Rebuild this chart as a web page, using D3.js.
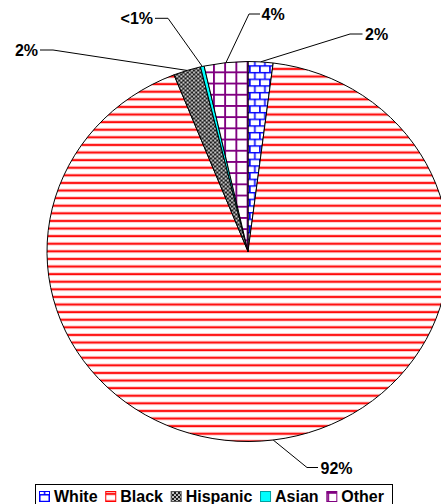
<!DOCTYPE html>
<html>
<head>
<meta charset="utf-8">
<script src="https://cdn.jsdelivr.net/npm/d3@7/dist/d3.min.js"></script>
<style>
  html, body { margin: 0; padding: 0; background: #fff; }
  svg { display: block; }
  text { font-family: "Liberation Sans", Arial, sans-serif; font-weight: bold; font-size: 16px; fill: #000; }
</style>
</head>
<body>
<svg id="chart" width="441" height="504"></svg>
<script>
// Population shares by group (percent), clockwise from 12 o'clock
const categories = ["White", "Black", "Hispanic", "Asian", "Other"];
const shares = [2.0, 92.0, 2.2, 0.3, 3.5];
const valueLabels = ["2%", "92%", "2%", "<1%", "4%"];

const svg = d3.select("#chart");

// Elliptical pie geometry
const cx = 248, cy = 251.5, rx = 201, ry = 190;
const sx = rx / ry;

// ---- fill patterns -------------------------------------------------------
const defs = svg.append("defs");

// Black: red horizontal stripes
const pBlack = defs.append("pattern").attr("id", "pat-black")
  .attr("patternUnits", "userSpaceOnUse").attr("width", 8).attr("height", 7.6)
  .attr("y", 3.6);
pBlack.append("rect").attr("width", 8).attr("height", 7.6).attr("fill", "#fff");
pBlack.append("rect").attr("y", 2.2).attr("width", 8).attr("height", 3.2).attr("fill", "#ffb3b3");
pBlack.append("rect").attr("y", 3.0).attr("width", 8).attr("height", 1.7).attr("fill", "#ff0000");

// White: blue brick
const bw = 9.5, bh = 6.67;
const pWhite = defs.append("pattern").attr("id", "pat-white")
  .attr("patternUnits", "userSpaceOnUse").attr("width", bw).attr("height", bh * 2)
  .attr("y", 0.5).attr("x", 1);
pWhite.append("rect").attr("width", bw).attr("height", bh * 2).attr("fill", "#fff");
pWhite.append("path")
  .attr("d", `M0,0.75H${bw}M0,${bh + 0.75}H${bw}M0.75,0V${bh}M${bw / 2 + 0.75},${bh}V${bh * 2}`)
  .attr("stroke", "#0000ff").attr("stroke-width", 1.5).attr("fill", "none");

// Other: purple grid
const gw = 10.6, gh = 11.2;
const pOther = defs.append("pattern").attr("id", "pat-other")
  .attr("patternUnits", "userSpaceOnUse").attr("width", gw).attr("height", gh)
  .attr("x", -1.3).attr("y", -0.9);
pOther.append("rect").attr("width", gw).attr("height", gh).attr("fill", "#fff");
pOther.append("path")
  .attr("d", `M0.9,0V${gh}M0,0.9H${gw}`)
  .attr("stroke", "#800080").attr("stroke-width", 1.8).attr("fill", "none");

// Hispanic: dark confetti
const pHisp = defs.append("pattern").attr("id", "pat-hisp")
  .attr("patternUnits", "userSpaceOnUse").attr("width", 4).attr("height", 4);
pHisp.append("rect").attr("width", 4).attr("height", 4).attr("fill", "#1a1a1a");
pHisp.append("circle").attr("cx", 1).attr("cy", 1).attr("r", 1.1).attr("fill", "#c8c8c8");
pHisp.append("circle").attr("cx", 3).attr("cy", 3).attr("r", 1.1).attr("fill", "#c8c8c8");
pHisp.append("circle").attr("cx", 1).attr("cy", 1).attr("r", 0.4).attr("fill", "#fff");
pHisp.append("circle").attr("cx", 3).attr("cy", 3).attr("r", 0.4).attr("fill", "#fff");

const fills = ["url(#pat-white)", "url(#pat-black)", "url(#pat-hisp)", "#00ffff", "url(#pat-other)"];
const keyStrokes = ["#0000ff", "#ff0000", "#555", "#00a0a0", "#800080"];

// ---- pie -----------------------------------------------------------------
const arcs = d3.pie().sort(null).value(d => d)(shares);
const arcGen = d3.arc().innerRadius(0).outerRadius(ry);

const pieG = svg.append("g").attr("transform", `translate(${cx},${cy}) scale(${sx},1)`);
pieG.selectAll("path.slice")
  .data(arcs)
  .join("path")
  .attr("class", "slice")
  .attr("d", arcGen)
  .attr("fill", (d, i) => fills[i])
  .attr("stroke", "#000")
  .attr("stroke-width", 1)
  .attr("stroke-linejoin", "round")
  .attr("vector-effect", "non-scaling-stroke");

// ---- data labels with leader lines --------------------------------------
// label placement: text anchor point and the elbow of each leader line
const labelLayout = [
  { x: 365,  y: 39.7, anchor: "start", elbow: [350, 34],   tail: [362.5, 34] },
  { x: 320.5, y: 473.5, anchor: "start", elbow: [307, 467.5], tail: [318, 467.5] },
  { x: 38,   y: 56,   anchor: "end",   elbow: [53, 50],    tail: [40, 50] },
  { x: 153,  y: 23.5, anchor: "end",   elbow: [168, 18.3], tail: [155, 18.3] },
  { x: 261.5, y: 19.5, anchor: "start", elbow: [249, 14],   tail: [260, 14] }
];

const edgePoint = a => [cx + rx * Math.sin(a), cy - ry * Math.cos(a)];

arcs.forEach((d, i) => {
  const mid = (d.startAngle + d.endAngle) / 2;
  const p = edgePoint(mid);
  const L = labelLayout[i];
  svg.append("polyline")
    .attr("points", [p, L.elbow, L.tail].map(q => q.join(",")).join(" "))
    .attr("fill", "none").attr("stroke", "#000").attr("stroke-width", 1);
  svg.append("text")
    .attr("x", L.x).attr("y", L.y)
    .attr("text-anchor", L.anchor)
    .text(valueLabels[i]);
});

// ---- legend --------------------------------------------------------------
const legend = svg.append("g");
legend.append("rect")
  .attr("x", 35.5).attr("y", 484.5).attr("width", 357).attr("height", 30)
  .attr("fill", "#fff").attr("stroke", "#000").attr("stroke-width", 1);

let lx = 39.5;
categories.forEach((c, i) => {
  legend.append("rect")
    .attr("x", lx).attr("y", 491.5).attr("width", 10).attr("height", 10)
    .attr("fill", fills[i]).attr("stroke", keyStrokes[i]).attr("stroke-width", 1);
  const t = legend.append("text").attr("x", lx + 14.5).attr("y", 501.7).text(c);
  lx += 14.5 + t.node().getComputedTextLength() + 8.2;
});
</script>
</body>
</html>
